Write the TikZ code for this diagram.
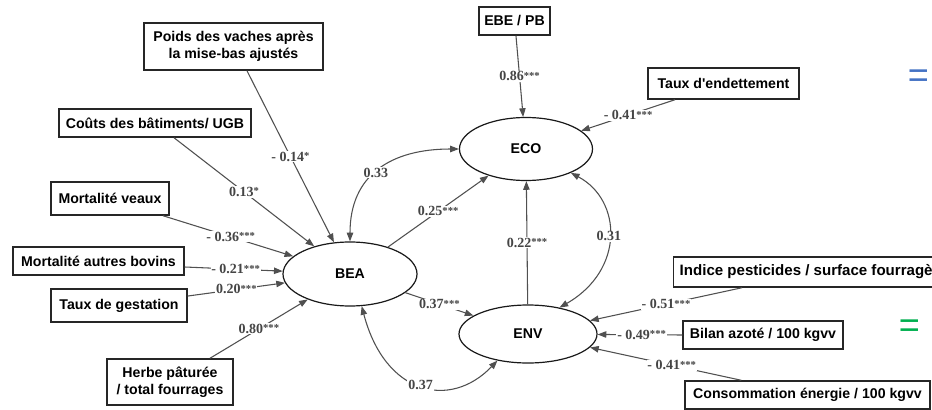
\documentclass[tikz,border=0pt]{standalone}
\usepackage{fontspec}
\setmainfont{Liberation Sans}
\newfontfamily\coeffont{Liberation Serif}
\usetikzlibrary{arrows.meta,shapes.geometric}
\definecolor{edgegray}{HTML}{505050}
\definecolor{labgray}{HTML}{454545}
\definecolor{eqblue}{HTML}{4472C4}
\definecolor{eqgreen}{HTML}{00B050}
% significance stars, set a little smaller than the coefficient and raised
\newcommand\sigstars[1]{\raisebox{1.2pt}{\fontsize{8}{9}\selectfont#1}}

\begin{document}
\begin{tikzpicture}[x=0.75pt,y=-0.75pt,
  indicator/.style={draw=black!85, line width=1.1pt, fill=white,
    font=\fontsize{10.6}{12.6}\selectfont\bfseries, inner sep=0pt, align=center},
  latent/.style={ellipse, draw=black!90, line width=0.9pt, fill=white, inner sep=0pt,
    font=\fontsize{10.6}{12}\selectfont\bfseries},
  link/.style={draw=edgegray, line width=0.8pt, -{Triangle[length=6.5pt,width=4.8pt]}},
  cov/.style={draw=edgegray, line width=0.8pt,
    {Triangle[length=6.5pt,width=4.8pt]}-{Triangle[length=6.5pt,width=4.8pt]}},
  coef/.style={fill=white, inner sep=0.6pt, text=labgray,
    font=\coeffont\fontsize{10.5}{12}\selectfont\bfseries},
  eqsign/.style={inner sep=0pt, font=\fontsize{27}{27}\selectfont}
]
\useasboundingbox (0,0) rectangle (932,410);
\clip (0,0) rectangle (932,410);
\fill[white] (0,0) rectangle (932,410);

% latent constructs
\node[latent, minimum width=100.5pt, minimum height=48pt] (bea) at (350,274) {BEA};
\node[latent, minimum width=99.75pt, minimum height=47.25pt] (eco) at (526,149) {ECO};
\node[latent, minimum width=103.5pt, minimum height=43.5pt] (env) at (528,334) {ENV};

% indicators of BEA
\node[indicator, minimum width=134.25pt, minimum height=35.25pt] (poids) at (233.5,46.5)
  {Poids des vaches après\\la mise-bas ajustés};
\node[indicator, minimum width=144pt, minimum height=21pt] (couts) at (155,123)
  {Coûts des bâtiments/ UGB};
\node[indicator, minimum width=88.5pt, minimum height=24.75pt] (veaux) at (110,198.5)
  {Mortalité veaux};
\node[indicator, minimum width=128.25pt, minimum height=21pt] (autres) at (98.5,261)
  {Mortalité autres bovins};
\node[indicator, minimum width=102pt, minimum height=24.75pt] (gestation) at (119,305.5)
  {Taux de gestation};
\node[indicator, minimum width=94.5pt, minimum height=34.5pt] (herbe) at (170,382)
  {Herbe pâturée\\/ total fourrages};

% indicators of ECO
\node[indicator, minimum width=53.25pt, minimum height=21pt] (ebe) at (514.5,21) {EBE / PB};
\node[indicator, minimum width=113.25pt, minimum height=23.25pt] (taux) at (723.5,83.5)
  {Taux d\textquotesingle endettement};

% indicators of ENV
\node[indicator, anchor=west, minimum height=22.5pt, inner xsep=4.5pt,
  font=\fontsize{11.3}{13}\selectfont\bfseries] (indice) at (673,272)
  {Indice pesticides / surface fourragère};
\node[indicator, minimum width=120pt, minimum height=21pt] (bilan) at (763,335)
  {Bilan azoté / 100 kgvv};
\node[indicator, minimum width=183.75pt, minimum height=21pt] (conso) at (807.5,395)
  {Consommation énergie / 100 kgvv};

% loadings on BEA
\draw[link] ([xshift=10.1pt]poids.south) -- node[coef]{- 0.14\sigstars{*}} (bea);
\draw[link] ([xshift=14.25pt]couts.south) -- node[coef]{0.13\sigstars{*}} (bea);
\draw[link] ([xshift=39.75pt]veaux.south) -- node[coef,pos=0.52]{- 0.36\sigstars{***}} (bea);
\draw[link] ([yshift=-4.5pt]autres.east) -- node[coef,pos=0.52]{- 0.21\sigstars{***}} (bea);
\draw[link] ([yshift=7.1pt]gestation.east) -- node[coef]{0.20\sigstars{***}} (bea);
\draw[link] ([xshift=30pt]herbe.north) -- node[coef]{0.80\sigstars{***}} (bea);

% loadings on ECO
\draw[link] ([xshift=1.1pt]ebe.south) -- node[coef]{0.86\sigstars{***}} (eco);
\draw[link] ([xshift=-36.4pt]taux.south) -- node[coef]{- 0.41\sigstars{***}} (eco);

% loadings on ENV
\draw[link] ([xshift=51.75pt]indice.south west) -- node[coef]{- 0.51\sigstars{***}} (env);
\draw[link] (bilan.west) -- node[coef,pos=0.48]{- 0.49\sigstars{***}} (env);
\draw[link] ([xshift=42.75pt]conso.north west) -- node[coef,pos=0.46]{- 0.41\sigstars{***}} (env);

% structural paths
\draw[link] (bea) -- node[coef]{0.25\sigstars{***}} (eco);
\draw[link] (bea) -- node[coef]{0.37\sigstars{***}} (env);
\draw[link] (env) -- node[coef]{0.22\sigstars{***}} (eco);

% covariances
\draw[cov] (bea.north) to[out=90,in=180,looseness=1.2] node[coef,pos=0.47]{0.33} (eco.west);
\draw[cov] (eco.-28) .. controls (622,200) and (625,270) .. node[coef]{0.31} (env.40);
\draw[cov] (bea.-70) .. controls (385,395) and (450,410) .. node[coef]{0.37} (env.-139);

% equals signs at the right margin
\node[eqsign, text=eqblue] (eqa) at (918.5,79) {=};
\node[eqsign, text=eqgreen] (eqb) at (909.5,329) {=};
\end{tikzpicture}
\end{document}
